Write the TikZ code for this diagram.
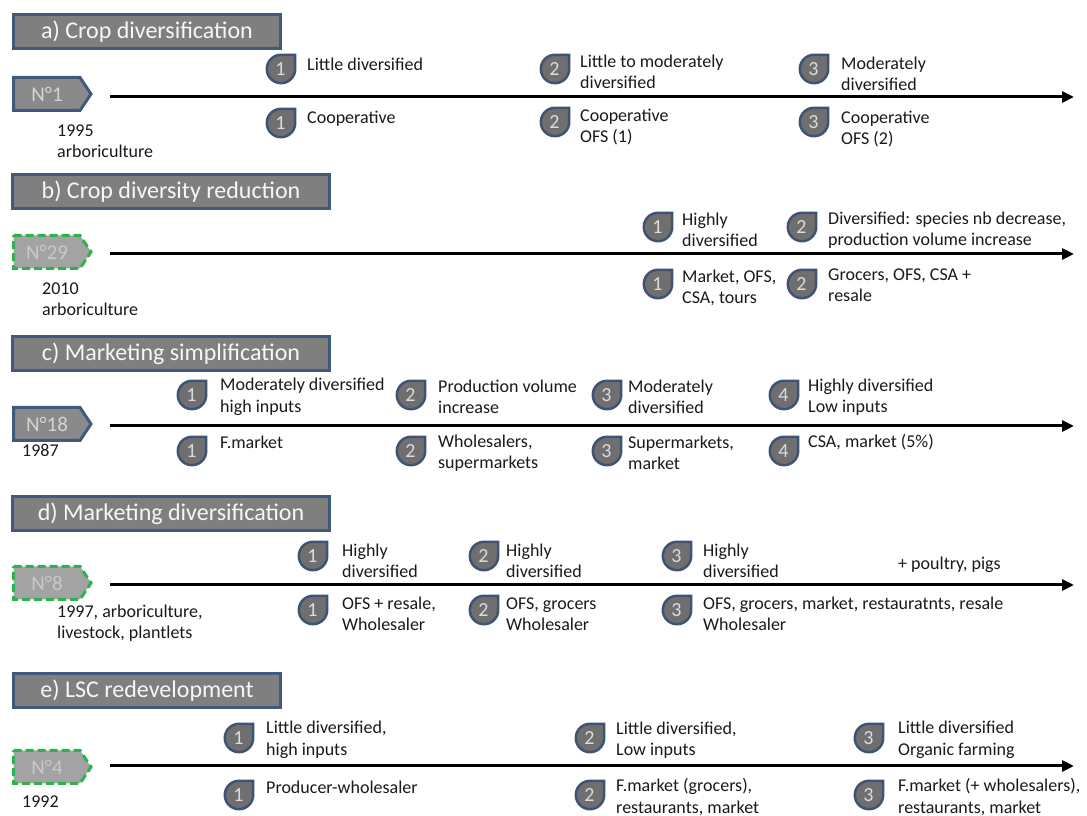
\documentclass[tikz,border=0pt]{standalone}
\usepackage{fontspec}
\setmainfont{Carlito}
\usetikzlibrary{arrows.meta}
\definecolor{boxgray}{HTML}{7F7F7F}
\definecolor{bordblue}{HTML}{3F5A7C}
\definecolor{numgray}{HTML}{8A8A8A}
\definecolor{numtext}{HTML}{D4D4D4}
\definecolor{dashfill}{HTML}{A3A3A3}
\definecolor{dashtext}{HTML}{C9C9C9}
\definecolor{dashgreen}{HTML}{2EB24C}
\definecolor{badgefillc}{HTML}{6F6F6F}
\definecolor{badgeline}{HTML}{3D5472}
\definecolor{badgetext}{HTML}{DCDCDC}
\definecolor{txt}{HTML}{1A1A1A}
\newcommand\numshape[2]{%
  \path[#1] (13.5,#2+16.5) -- (80,#2+16.5) -- (91,#2) -- (80,#2-16.5) -- (13.5,#2-16.5) -- cycle;}
\begin{document}
\begin{tikzpicture}[x=1pt,y=1pt,
  titlebox/.style={draw=bordblue,line width=3pt,fill=boxgray,text=white!94!gray,
    font=\fontsize{24}{28}\selectfont,minimum height=34pt,inner sep=0pt},
  numsolidshape/.style={draw=bordblue,line width=3pt,fill=numgray,line join=miter},
  numdashshape/.style={draw=dashgreen,line width=3pt,dash pattern=on 8pt off 4pt,fill=dashfill},
  numsolid/.style={inner sep=0pt,text=numtext,font=\fontsize{21}{24}\selectfont},
  numdash/.style={numsolid,text=dashtext},
  lbl/.style={anchor=west,align=left,inner sep=0pt,text=txt,font=\fontsize{18}{21.5}\selectfont},
  timeline/.style={line width=3pt,-{Triangle[length=12pt,width=11pt]}},
  badge/.pic={
    \path[fill=badgefillc,draw=badgeline,line width=2.5pt]
      (0,14.2) -- (14.2,14.2) -- (14.2,0) arc[start angle=0,end angle=-180,radius=14.2]
      arc[start angle=180,end angle=90,radius=14.2] -- cycle;
    \node[inner sep=0pt,text=badgetext,font=\fontsize{20}{22}\selectfont] (-n) at (-0.5,0) {#1};
  }
]
\path[use as bounding box,fill=white] (0,0) rectangle (1087,816);
\begin{scope}[shift={(0,816)}]
% ---------- a) ----------
\node[titlebox,minimum width=267pt] (ta) at (147,-31.5) {a) Crop diversification};
\numshape{numsolidshape}{-94}
\node[numsolid] (na) at (47,-94) {N°1};
\node[lbl] (ya) at (57,-141) {1995\\arboriculture};
\coordinate (sa) at (110,-97);
\coordinate (ea) at (1074,-97);
\draw[timeline] (sa) -- (ea);
\pic (a1) at (281,-69) {badge=1};
\pic (a2) at (555,-69) {badge=2};
\pic (a3) at (814,-69) {badge=3};
\node[lbl] (a1t) at (307,-64) {Little diversified};
\node[lbl] (a2t) at (580,-72) {Little to moderately\\diversified};
\node[lbl] (a3t) at (841,-74) {Moderately\\diversified};
\pic (a4) at (281,-123) {badge=1};
\pic (a5) at (555,-122) {badge=2};
\pic (a6) at (814,-122) {badge=3};
\node[lbl] (a4t) at (307,-119) {Cooperative};
\node[lbl] (a5t) at (580,-127) {Cooperative\\OFS (1)};
\node[lbl] (a6t) at (841,-129) {Cooperative\\OFS (2)};
% ---------- b) ----------
\node[titlebox,minimum width=317pt] (tb) at (171,-192) {b) Crop diversity reduction};
\numshape{numdashshape}{-252}
\node[numdash] (nb) at (47,-252) {N°29};
\node[lbl] (yb) at (42,-299) {2010\\arboriculture};
\coordinate (sb) at (110,-254);
\coordinate (eb) at (1074,-254);
\draw[timeline] (sb) -- (eb);
\pic (b1) at (658,-227) {badge=1};
\pic (b2) at (802,-227) {badge=2};
\node[lbl] (b1t) at (682,-230) {Highly\\diversified};
\node[lbl] (b2t) at (828,-230) {Diversified: species nb decrease,\\production  volume  increase};
\pic (b3) at (658,-284) {badge=1};
\pic (b4) at (802,-284) {badge=2};
\node[lbl] (b3t) at (682,-288) {Market,  OFS,\\CSA, tours};
\node[lbl] (b4t) at (828,-285) {Grocers, OFS, CSA +\\resale};
% ---------- c) ----------
\node[titlebox,minimum width=317pt] (tc) at (171,-354) {c) Marketing  simplification};
\numshape{numsolidshape}{-424}
\node[numsolid] (nc) at (47,-424) {N°18};
\node[lbl] (yc) at (22,-450) {1987};
\coordinate (sc) at (110,-426);
\coordinate (ec) at (1074,-426);
\draw[timeline] (sc) -- (ec);
\pic (c1) at (192,-395) {badge=1};
\pic (c2) at (411,-395) {badge=2};
\pic (c3) at (607,-395) {badge=3};
\pic (c4) at (784,-395) {badge=4};
\node[lbl] (c1t) at (220,-397) {Moderately diversified\\high inputs};
\node[lbl] (c2t) at (438,-397) {Production  volume\\increase};
\node[lbl] (c3t) at (628,-397) {Moderately\\diversified};
\node[lbl] (c4t) at (808,-397) {Highly diversified\\Low inputs};
\pic (c5) at (192,-451) {badge=1};
\pic (c6) at (411,-451) {badge=2};
\pic (c7) at (607,-451) {badge=3};
\pic (c8) at (784,-451) {badge=4};
\node[lbl] (c5t) at (220,-442) {F.market};
\node[lbl] (c6t) at (438,-453) {Wholesalers,\\supermarkets};
\node[lbl] (c7t) at (628,-453) {Supermarkets,\\market};
\node[lbl] (c8t) at (808,-442) {CSA, market  (5\%)};
% ---------- d) ----------
\node[titlebox,minimum width=317pt] (td) at (171,-514) {d) Marketing  diversification};
\numshape{numdashshape}{-583}
\node[numdash] (nd) at (47,-583) {N°8};
\node[lbl] (yd) at (57,-623) {1997, arboriculture,\\livestock, plantlets};
\coordinate (sd) at (110,-585);
\coordinate (ed) at (1074,-585);
\draw[timeline] (sd) -- (ed);
\pic (d1) at (313,-556) {badge=1};
\pic (d2) at (484,-556) {badge=2};
\pic (d3) at (677,-556) {badge=3};
\node[lbl] (d1t) at (342,-561) {Highly\\diversified};
\node[lbl] (d2t) at (506,-561) {Highly\\diversified};
\node[lbl] (d3t) at (703,-561) {Highly\\diversified};
\node[lbl] (d4t) at (898,-565) {+ poultry,  pigs};
\pic (d5) at (313,-610) {badge=1};
\pic (d6) at (484,-610) {badge=2};
\pic (d7) at (677,-610) {badge=3};
\node[lbl] (d5t) at (342,-614) {OFS + resale,\\Wholesaler};
\node[lbl] (d6t) at (506,-614) {OFS, grocers\\Wholesaler};
\node[lbl] (d7t) at (703,-614) {OFS, grocers, market,  restauratnts, resale\\Wholesaler};
% ---------- e) ----------
\node[titlebox,minimum width=267pt] (te) at (147,-691) {e) LSC redevelopment};
\numshape{numdashshape}{-767}
\node[numdash] (ne) at (47,-767) {N°4};
\node[lbl] (ye) at (22,-802) {1992};
\coordinate (se) at (110,-766);
\coordinate (ee) at (1074,-766);
\draw[timeline] (se) -- (ee);
\pic (e1) at (239,-738) {badge=1};
\pic (e2) at (590,-738) {badge=2};
\pic (e3) at (869,-738) {badge=3};
\node[lbl] (e1t) at (266,-740) {Little diversified,\\high inputs};
\node[lbl] (e2t) at (616,-740) {Little diversified,\\Low inputs};
\node[lbl] (e3t) at (898,-740) {Little diversified\\Organic farming};
\pic (e4) at (239,-795) {badge=1};
\pic (e5) at (590,-795) {badge=2};
\pic (e6) at (869,-795) {badge=3};
\node[lbl] (e4t) at (266,-787) {Producer-wholesaler};
\node[lbl] (e5t) at (616,-797) {F.market  (grocers),\\restaurants, market};
\node[lbl] (e6t) at (898,-797) {F.market  (+ wholesalers),\\restaurants, market};
\end{scope}
\end{tikzpicture}
\end{document}
